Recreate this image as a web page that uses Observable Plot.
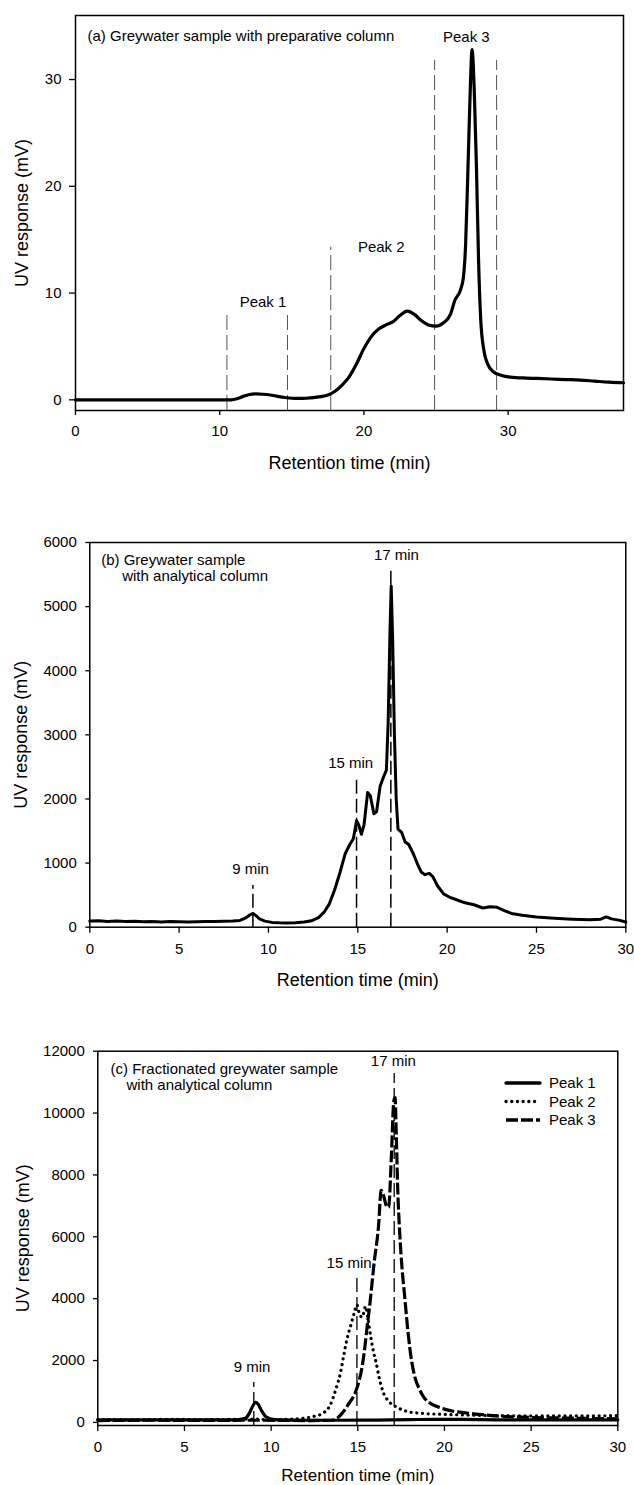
<!DOCTYPE html>
<html><head><meta charset="utf-8">
<script src="https://cdn.jsdelivr.net/npm/d3@7"></script>
<script src="https://cdn.jsdelivr.net/npm/@observablehq/plot@0.6"></script>
<style>
body{margin:0;background:#fff;}
#wrap{position:relative;width:634px;height:1485px;background:#fff;overflow:hidden;}
.panel{position:absolute;left:0;}
</style></head><body><div id="wrap"></div>
<script>
// ---------- Panel (a) ----------
const timeA = [0,5,10,10.8,11.2,11.6,12.0,12.5,13.0,13.5,14.0,14.5,15.0,15.5,16.0,16.5,17.0,17.5,18.0,18.5,19.0,19.5,20.0,20.5,21.0,21.5,22.0,22.5,23.0,23.5,24.0,24.5,25.0,25.5,26.0,26.3,26.7,26.9,27.05,27.2,27.35,27.5,27.65,27.8,27.95,28.1,28.3,28.6,29.0,29.5,30,31,32,33,34,35,36,37,38];
const respA = [0,0,0,0,0.1,0.3,0.48,0.55,0.52,0.45,0.33,0.22,0.15,0.13,0.15,0.2,0.3,0.45,0.8,1.4,2.2,3.4,4.8,5.9,6.6,7.0,7.3,7.9,8.3,8.0,7.4,7.0,6.9,7.2,8.0,9.3,10.3,11.5,14.5,21,28,32.8,29,22,13,7.5,4.8,3.3,2.6,2.3,2.15,2.05,2.0,1.95,1.9,1.85,1.75,1.65,1.6];
const cutTimesA = [10.5,14.7,17.7,24.9,29.2];
const cutTopsA = [8,8,14.3,31.8,31.8];
const peakLabelsA = ["Peak 1","Peak 2","Peak 3"];
const peakLabelTA = [13.0,21.2,27.1];
const peakLabelVA = [9.1,14.3,34.0];
const titleA = "(a) Greywater sample with preparative column";
const xDomainA = [0,38], yDomainA = [-1,36];
const xTicksA = [0,10,20,30], yTicksA = [0,10,20,30];

// ---------- Panel (b) ----------
const timeB = [0,0.5,1,1.5,2,2.5,3,3.5,4,4.5,5,5.5,6,6.5,7,7.5,8,8.4,8.7,8.95,9.13,9.3,9.5,9.8,10.2,10.6,11,11.5,12,12.4,12.8,13.1,13.4,13.7,14.0,14.3,14.55,14.75,14.93,15.05,15.2,15.35,15.55,15.7,15.9,16.05,16.25,16.45,16.6,16.7,16.8,16.87,16.95,17.05,17.15,17.25,17.45,17.65,17.85,18.1,18.35,18.55,18.75,19.0,19.2,19.45,19.8,20.2,20.6,21.0,21.5,22.0,22.4,22.8,23.2,23.6,24.2,25,26,27,28,28.6,28.9,29.2,29.6,30];
const respB = [95,100,90,95,88,92,85,90,82,88,85,80,85,90,88,92,95,105,140,190,215,180,130,95,75,68,65,70,80,100,150,230,360,580,850,1150,1290,1380,1660,1600,1450,1600,2100,2050,1770,1800,2200,2350,2450,3200,4600,5320,4500,3000,2000,1530,1480,1330,1290,1150,980,860,820,840,790,650,520,460,420,380,350,300,320,310,260,215,185,160,140,125,115,125,160,130,110,80];
const markTimesB = [9.13,14.93,16.85];
const markTopsB = [650,2320,5596];
const markLabelsB = ["9 min","15 min","17 min"];
const markLabelTB = [9.0,14.6,17.16];
const markLabelVB = [900,2554,5800];
const titleB = ["(b) Greywater sample","with analytical column"];
const xDomainB = [0,30], yDomainB = [0,6000];
const xTicksB = [0,5,10,15,20,25,30], yTicksB = [0,1000,2000,3000,4000,5000,6000];

// ---------- Panel (c) ----------
const timeC1 = [0,2,4,6,7,8,8.5,8.75,8.95,9.1,9.25,9.45,9.7,10,10.5,12,14,16,18,19.5,21,23,25,27,30];
const respC1 = [80,80,80,80,80,85,130,300,540,650,590,380,180,110,80,70,70,75,90,100,95,85,80,80,80];
const timeC2 = [0,2,4,6,8,9,10,11,12,12.5,13.0,13.4,13.75,14.0,14.2,14.4,14.6,14.8,14.95,15.1,15.26,15.45,15.6,15.75,15.9,16.05,16.25,16.45,16.75,17.1,17.7,18.5,20,22,24,26,28,30];
const respC2 = [90,80,100,90,100,110,80,100,140,200,300,550,1100,1600,2200,2750,3150,3550,3800,3500,3400,3750,3300,2750,2300,1950,1400,1000,700,540,380,300,260,230,215,210,210,220];
const timeC3 = [0,3,6,9,12,13.5,13.8,14.1,14.45,14.9,15.1,15.25,15.4,15.5,15.72,15.95,16.19,16.35,16.5,16.65,16.78,16.93,17.08,17.15,17.22,17.3,17.42,17.55,17.7,17.9,18.1,18.3,18.55,18.8,19.1,19.5,20.0,20.6,21.2,21.8,22.4,23,24,25,27,30];
const respC3 = [60,70,65,70,60,70,130,300,580,1030,1400,1800,2400,2900,3950,5200,6300,7500,7300,7000,6950,8500,10400,10500,9300,7600,6100,5000,4100,2900,2000,1450,1080,820,650,530,430,350,310,270,240,210,180,160,140,115];
const seriesC = ["Peak 1","Peak 2","Peak 3"];
const markTimesC = [9.0,14.95,17.1];
const markTopsC = [1290,4685,11280];
const markLabelsC = ["9 min","15 min","17 min"];
const markLabelTC = [8.9,14.5,17.05];
const markLabelVC = [1775,5137,11668];
const titleC = ["(c) Fractionated greywater sample","with analytical column"];
const xDomainC = [0,30], yDomainC = [-100,12000];
const xTicksC = [0,5,10,15,20,25,30], yTicksC = [0,2000,4000,6000,8000,10000,12000];

const xTitle = "Retention time (min)";
const yTitle = "UV response (mV)";

// ---------- helpers ----------
const FONT = '"Liberation Sans", Arial, Helvetica, sans-serif';
const zipTV = (t, v) => t.map((d, i) => ({t: d, v: v[i]}));
const wrap = document.getElementById("wrap");

function commonMarks(o) {
  return [
    Plot.frame({stroke: "black", strokeWidth: 1.5}),
    Plot.axisX({ticks: o.xTicks, tickSize: o.xTickSize, tickPadding: 10, tickFormat: d => String(d), label: null, strokeWidth: 1.3}),
    Plot.axisY({ticks: o.yTicks, tickSize: o.yTickSize, tickPadding: o.yPad, tickFormat: d => String(d), label: null, strokeWidth: 1.3}),
    Plot.text([xTitle], {frameAnchor: "bottom", dy: o.xTitleDy, lineAnchor: "middle", textAnchor: "middle", fontSize: o.titleSize || 18, text: d => d}),
    Plot.text([yTitle], {frameAnchor: "left", dx: o.yTitleDx, rotate: -90, lineAnchor: "middle", textAnchor: "middle", fontSize: 18, text: d => d})
  ];
}

function place(svg, top) {
  svg.classList.add("panel");
  svg.style.top = top + "px";
  wrap.appendChild(svg);
}

const style = {fontFamily: FONT, fontSize: "15px", color: "black", background: "white", overflow: "visible"};

// ---------- Plot (a) ----------
const dataA = zipTV(timeA, respA);
const cutsA = cutTimesA.map((t, i) => ({t, top: cutTopsA[i], bottom: yDomainA[0]}));
const labA = peakLabelsA.map((s, i) => ({s, t: peakLabelTA[i], v: peakLabelVA[i]}));
const plotA = Plot.plot({
  width: 634, height: 480, marginTop: 15, marginBottom: 70, marginLeft: 75, marginRight: 11,
  x: {domain: xDomainA}, y: {domain: yDomainA}, style,
  marks: [
    Plot.ruleX(cutsA, {x: "t", y1: "bottom", y2: "top", stroke: "#555", strokeWidth: 1, strokeDasharray: "15,5"}),
    Plot.line(dataA, {x: "t", y: "v", stroke: "black", strokeWidth: 3.2, curve: "monotone-x"}),
    Plot.text(labA, {x: "t", y: "v", text: "s", lineAnchor: "middle"}),
    Plot.text([titleA], {frameAnchor: "top-left", dx: 12, dy: 21, lineAnchor: "middle", textAnchor: "start", text: d => d}),
    ...commonMarks({xTicks: xTicksA, yTicks: yTicksA, xTickSize: 5, yTickSize: 6, yPad: 8, xTitleDy: 53, yTitleDx: -53})
  ]
});
place(plotA, 0);

// ---------- Plot (b) ----------
const dataB = zipTV(timeB, respB);
const marksB = markTimesB.map((t, i) => ({t, top: markTopsB[i], bottom: yDomainB[0]}));
const labB = markLabelsB.map((s, i) => ({s, t: markLabelTB[i], v: markLabelVB[i]}));
const plotB = Plot.plot({
  width: 634, height: 500, marginTop: 42, marginBottom: 73.3, marginLeft: 89.3, marginRight: 8.7,
  x: {domain: xDomainB}, y: {domain: yDomainB}, style,
  marks: [
    Plot.ruleX(marksB, {x: "t", y1: "bottom", y2: "top", stroke: "black", strokeWidth: 1.5, strokeDasharray: "14,5"}),
    Plot.line(dataB, {x: "t", y: "v", stroke: "black", strokeWidth: 3, curve: "linear", strokeLinejoin: "round"}),
    Plot.text(labB, {x: "t", y: "v", text: "s", lineAnchor: "middle"}),
    Plot.text([titleB[0]], {frameAnchor: "top-left", dx: 11.4, dy: 17.5, lineAnchor: "middle", textAnchor: "start", text: d => d}),
    Plot.text([titleB[1]], {frameAnchor: "top-left", dx: 32.4, dy: 34, lineAnchor: "middle", textAnchor: "start", text: d => d}),
    ...commonMarks({xTicks: xTicksB, yTicks: yTicksB, xTickSize: 6, yTickSize: 4, yPad: 9, xTitleDy: 53, yTitleDx: -69})
  ]
});
place(plotB, 500);

// ---------- Plot (c) ----------
const dashes = {"Peak 1": null, "Peak 2": "0.1,5.6", "Peak 3": "12,3"};
const caps = {"Peak 1": "round", "Peak 2": "round", "Peak 3": "butt"};
const dataC = [
  ...zipTV(timeC2, respC2).map(d => ({...d, s: seriesC[1]})),
  ...zipTV(timeC3, respC3).map(d => ({...d, s: seriesC[2]})),
  ...zipTV(timeC1, respC1).map(d => ({...d, s: seriesC[0]}))
];
const marksC = markTimesC.map((t, i) => ({t, top: markTopsC[i], bottom: yDomainC[0]}));
const labC = markLabelsC.map((s, i) => ({s, t: markLabelTC[i], v: markLabelVC[i]}));
const plotC = Plot.plot({
  width: 634, height: 485, marginTop: 50.7, marginBottom: 60, marginLeft: 97.3, marginRight: 16.7,
  x: {domain: xDomainC}, y: {domain: yDomainC}, style,
  marks: [
    Plot.ruleX(marksC, {x: "t", y1: "bottom", y2: "top", stroke: "black", strokeWidth: 1.3, strokeDasharray: "14,5"}),
    ...seriesC.map(s => Plot.line(dataC.filter(d => d.s === s), {x: "t", y: "v", stroke: "black", strokeWidth: 3.2, curve: "monotone-x", strokeDasharray: dashes[s], strokeLinecap: caps[s]})),
    Plot.text(labC, {x: "t", y: "v", text: "s", lineAnchor: "middle"}),
    Plot.text([titleC[0]], {frameAnchor: "top-left", dx: 12.7, dy: 17.8, lineAnchor: "middle", textAnchor: "start", text: d => d}),
    Plot.text([titleC[1]], {frameAnchor: "top-left", dx: 28.7, dy: 33.8, lineAnchor: "middle", textAnchor: "start", text: d => d}),
    ...commonMarks({xTicks: xTicksC, yTicks: yTicksC, xTickSize: 6, yTickSize: 4.3, yPad: 8.7, xTitleDy: 50, yTitleDx: -75, titleSize: 17})
  ]
});
place(plotC, 1000);

// ---------- legend for (c) ----------
const leg = d3.select(wrap).append("svg")
  .attr("width", 130).attr("height", 64)
  .style("position", "absolute").style("left", "500px").style("top", "1072px")
  .style("font-family", FONT).style("font-size", "15px");
seriesC.forEach((s, i) => {
  const g = leg.append("g").attr("transform", `translate(0,${11 + i * 18.5})`);
  g.append("line").attr("x1", 6).attr("x2", 40).attr("y1", 0).attr("y2", 0)
    .attr("stroke", "black").attr("stroke-width", 3.3)
    .attr("stroke-linecap", caps[s])
    .attr("stroke-dasharray", dashes[s]);
  g.append("text").attr("x", 49).attr("y", 0).attr("dy", "0.35em").text(s);
});
</script></body></html>
